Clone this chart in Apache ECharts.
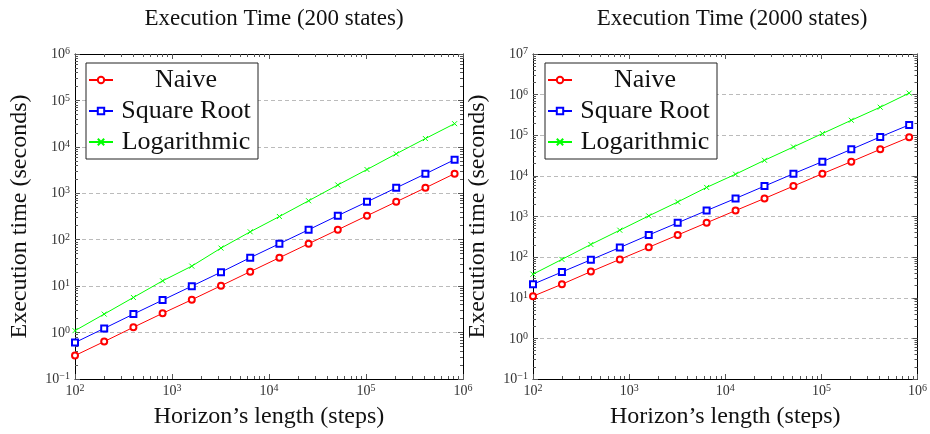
<!DOCTYPE html>
<html lang="en">
<head>
    <meta charset="UTF-8">
    <title>Execution Time</title>
    <style>
        html, body { margin: 0; padding: 0; background: #fff; }
    </style>
</head>
<body>
    <div id="chart" style="width: 930px;height: 434px"></div>

    <script src="https://cdn.jsdelivr.net/npm/echarts@6/dist/echarts.min.js"></script>
    <script>
        // horizon lengths (steps)
        var steps = [100, 200, 400, 800, 1600, 3200, 6400, 12800, 25600, 51200, 102400, 204800, 409600, 819200];

        // 200 states
        var naive200 = [0.32, 0.64, 1.3, 2.6, 5.1, 10.2, 20.5, 41, 82, 164, 328, 655, 1310, 2650];
        var sqrt200 = [0.61, 1.23, 2.5, 5.0, 10, 20, 41, 82, 164, 330, 655, 1310, 2620, 5300];
        var log200 = [1.1, 2.5, 5.7, 13, 27, 66, 148, 316, 690, 1510, 3250, 7070, 15100, 31600];

        // 2000 states
        var naive2000 = [10.9, 21.5, 44, 88, 175, 350, 700, 1400, 2780, 5600, 11300, 22400, 45000, 89000];
        var sqrt2000 = [21.5, 43, 86, 172, 350, 700, 1400, 2780, 5600, 11300, 22400, 45000, 91000, 180000];
        var log2000 = [38, 88, 205, 460, 1035, 2275, 5200, 11000, 24200, 51500, 110000, 234000, 490000, 1090000];

        var names = ['Naive', 'Square Root', 'Logarithmic'];
        var titles = ['Execution Time (200 states)', 'Execution Time (2000 states)'];
        var xTicks = [100, 1000, 10000, 100000, 1000000];
        var yTicks200 = [0.1, 1, 10, 100, 1000, 10000, 100000, 1000000];
        var yTicks2000 = [0.1, 1, 10, 100, 1000, 10000, 100000, 1000000, 10000000];

        var serif = '"Liberation Serif", "DejaVu Serif", serif';
        var colors = ['#ff0000', '#0000ff', '#00ff00'];
        var symbols = ['emptyCircle', 'emptyRect', 'path://M0,0L10,10M10,0L0,10'];
        var symbolSizes = [6, 6, 5];

        // 2..9 between decades
        function minorTicks(major) {
            var out = [];
            for (var i = 0; i < major.length - 1; i++) {
                for (var k = 2; k <= 9; k++) out.push(major[i] * k);
            }
            return out;
        }

        function powLabel(v) {
            var e = Math.round(Math.log(v) / Math.LN10);
            return '{b|10}{s|' + (e < 0 ? '\u2212' + (-e) : e) + '}';
        }

        var labelRich = {
            b: { fontSize: 14, fontFamily: serif, color: '#333', lineHeight: 15, verticalAlign: 'bottom' },
            s: { fontSize: 10, fontFamily: serif, color: '#333', lineHeight: 15, verticalAlign: 'top' }
        };

        var grids = [
            { left: 75, top: 54, width: 388, height: 327 },
            { left: 533, top: 54, width: 388, height: 327 }
        ];

        var xAxes = [], yAxes = [];
        var mainX = [], mainY = [];

        function addAxes(list, g, dim, min, max, major, name) {
            var minor = minorTicks(major);
            var sides = dim === 'x' ? ['bottom', 'top'] : ['left', 'right'];
            sides.forEach(function (pos, si) {
                [major, minor].forEach(function (ticks, ti) {
                    var isMain = si === 0 && ti === 0;
                    var ax = {
                        type: 'log',
                        logBase: 10,
                        gridIndex: g,
                        position: pos,
                        min: min,
                        max: max,
                        axisLine: { show: ti === 0, lineStyle: { color: '#000', width: 1 } },
                        axisTick: {
                            show: true,
                            inside: true,
                            length: ti === 0 ? 5 : 3,
                            lineStyle: { color: '#555', width: 1 },
                            customValues: ticks
                        },
                        axisLabel: { show: false },
                        splitLine: { show: false },
                        silent: true
                    };
                    if (isMain) {
                        ax.axisLabel = {
                            show: true,
                            customValues: major,
                            margin: dim === 'x' ? 4 : 5,
                            formatter: powLabel,
                            rich: labelRich
                        };
                        ax.name = name;
                        ax.nameLocation = 'middle';
                        ax.nameTextStyle = { fontFamily: serif, fontSize: 24, color: '#111' };
                        if (dim === 'x') {
                            ax.nameGap = 26;
                        } else {
                            ax.nameGap = 43;
                            ax.splitLine = {
                                show: true,
                                lineStyle: { color: '#bbb', type: [4, 3], width: 1 }
                            };
                        }
                        (dim === 'x' ? mainX : mainY).push(list.length);
                    }
                    list.push(ax);
                });
            });
        }

        addAxes(xAxes, 0, 'x', 100, 1000000, xTicks, 'Horizon\u2019s length (steps)');
        addAxes(yAxes, 0, 'y', 0.1, 1000000, yTicks200, 'Execution time (seconds)');
        addAxes(xAxes, 1, 'x', 100, 1000000, xTicks, 'Horizon\u2019s length (steps)');
        addAxes(yAxes, 1, 'y', 0.1, 10000000, yTicks2000, 'Execution time (seconds)');

        var datasets = [[naive200, sqrt200, log200], [naive2000, sqrt2000, log2000]];
        var series = [];
        datasets.forEach(function (group, g) {
            group.forEach(function (vals, i) {
                series.push({
                    name: names[i],
                    type: 'line',
                    xAxisIndex: mainX[g],
                    yAxisIndex: mainY[g],
                    data: steps.map(function (s, j) { return [s, vals[j]]; }),
                    symbol: symbols[i],
                    symbolSize: symbolSizes[i],
                    showAllSymbol: true,
                    lineStyle: { color: colors[i], width: 1 },
                    itemStyle: { color: colors[i], borderColor: colors[i], borderWidth: 1 },
                    emphasis: { disabled: true },
                    z: 3 + i
                });
            });
        });

        function legendAt(left) {
            return {
                left: left,
                top: 63,
                orient: 'vertical',
                data: names,
                itemWidth: 24,
                itemHeight: 8,
                itemGap: 1,
                padding: [2, 4, 2, 2],
                borderColor: '#222',
                borderWidth: 1,
                backgroundColor: '#fff',
                selectedMode: false,
                textStyle: {
                    fontFamily: serif,
                    fontSize: 26,
                    lineHeight: 30,
                    color: '#111',
                    rich: {
                        c: { width: 136, align: 'center', fontFamily: serif, fontSize: 26, lineHeight: 30, color: '#111' }
                    }
                },
                formatter: '{c|{name}}'
            };
        }

        var myChart = echarts.init(document.getElementById('chart'));
        myChart.setOption({
            animation: false,
            title: [
                { text: titles[0], left: 269, top: 2, textAlign: 'center', textStyle: { fontFamily: serif, fontSize: 23, fontWeight: 'normal', color: '#111' } },
                { text: titles[1], left: 727, top: 2, textAlign: 'center', textStyle: { fontFamily: serif, fontSize: 23, fontWeight: 'normal', color: '#111' } }
            ],
            grid: grids,
            legend: [legendAt(86), legendAt(545)],
            xAxis: xAxes,
            yAxis: yAxes,
            series: series
        });
    </script>
</body>
</html>
